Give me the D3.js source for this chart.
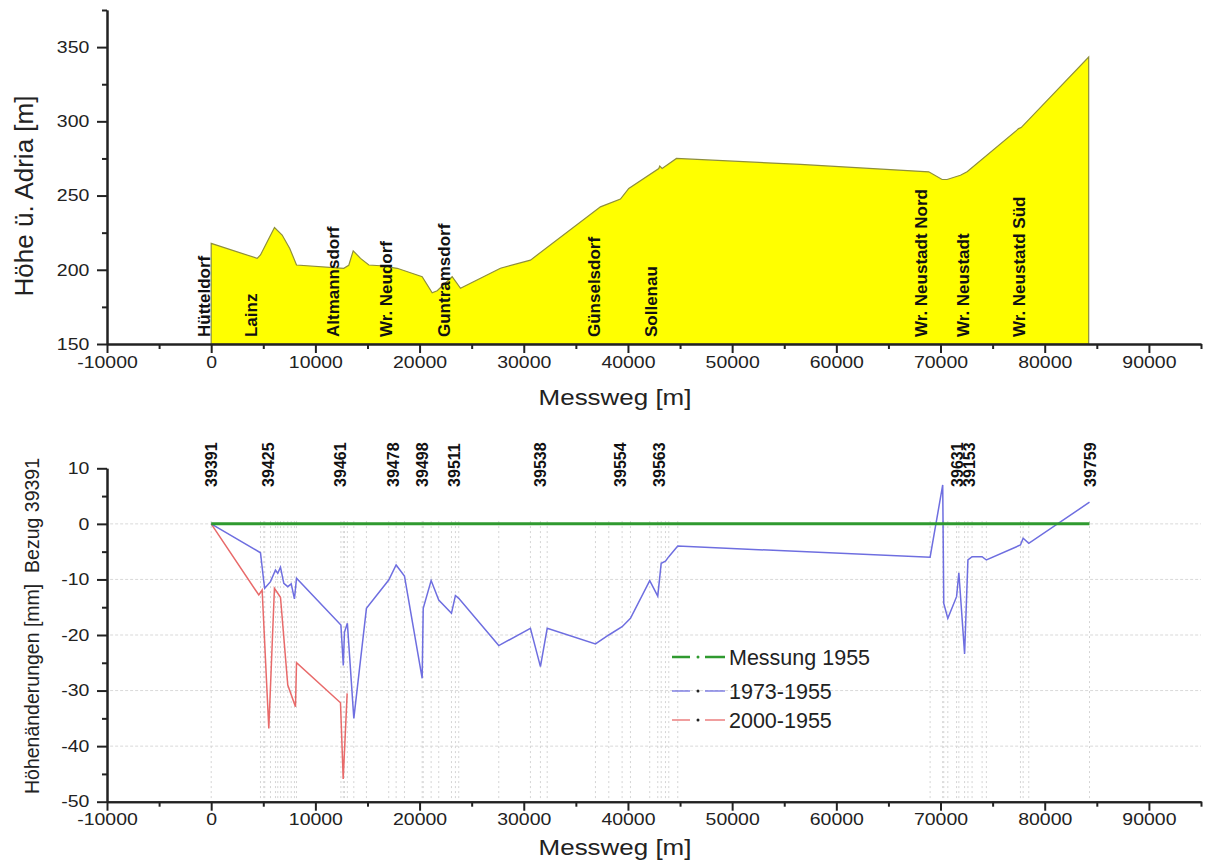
<!DOCTYPE html>
<html><head><meta charset="utf-8">
<script src="https://cdn.jsdelivr.net/npm/d3@7"></script>
<style>
body{margin:0;background:#fff}
text{font-family:"Liberation Sans",Arial,Helvetica,sans-serif}
</style>
</head><body>
<svg id="chart" width="1208" height="865"></svg>
<script>
// ---------- DATA ----------
const profileX = [0, 4415, 4730, 6075, 6810, 7540, 8190, 12725, 13200, 13630, 14330, 15130, 16250, 17850, 20250, 21210, 21690, 23130, 23930, 27760, 30640, 37360, 39280, 40080, 42960, 43050, 43280, 44655, 56550, 68870, 70150, 70630, 71910, 72550, 77500, 77740, 84220];
const profileH = [217.8, 207.7, 210, 228.5, 223.4, 214.4, 203.2, 201, 203, 212.8, 207.7, 203.2, 202.7, 201, 195.3, 184.5, 185.9, 195.3, 187.5, 201, 206.5, 242.4, 247.6, 254.8, 268.2, 269.8, 268.2, 275, 271, 266, 260.8, 260.8, 263.7, 266, 295.1, 295.8, 343.3];

const townNames = ["Hütteldorf", "Lainz", "Altmannsdorf", "Wr. Neudorf", "Guntramsdorf", "Günselsdorf", "Sollenau", "Wr. Neustadt Nord", "Wr. Neustadt", "Wr. Neustatd Süd"];
const townX = [-740, 3770, 11670, 16730, 22320, 36720, 42230, 68070, 72130, 77510];

const stationIds = ["39391", "39425", "39461", "39478", "39498", "39511", "39538", "39554", "39563", "39631", "39153", "39759"];
const stationX = [0, 5430, 12340, 17470, 20250, 23350, 31600, 39280, 43050, 71650, 72800, 84380];

const base1955X = [0, 84300];
const base1955 = [0, 0];

const series1973X = [0, 4730, 5050, 5140, 5690, 6170, 6390, 6650, 6970, 7350, 7680, 7990, 8190, 12450, 12680, 12790, 13070, 13690, 14900, 17040, 17750, 18550, 20250, 20350, 21110, 21840, 23060, 23440, 23760, 27600, 30640, 31600, 32250, 36880, 38160, 39440, 40240, 42090, 42860, 43190, 43600, 43920, 44780, 69000, 70210, 70310, 70700, 71540, 71760, 72310, 72630, 73030, 73990, 74400, 77670, 77930, 78470, 84300];
const series1973 = [0, -5.2, -10.4, -11.6, -10.4, -8.3, -8.9, -7.8, -10.7, -11.3, -10.8, -13.5, -9.8, -18.2, -25.5, -19.5, -17.9, -35, -15.2, -10.1, -7.4, -9.4, -27.8, -15.2, -10.2, -13.7, -16.1, -12.9, -13.4, -21.9, -18.8, -25.7, -18.8, -21.6, -20, -18.5, -17, -10.2, -13.0, -7.1, -6.7, -5.9, -4.0, -6.0, 7.0, -14.3, -17, -13.1, -8.8, -23.4, -6.5, -5.9, -5.9, -6.5, -3.8, -2.6, -3.5, 3.9];

const series2000X = [0, 4570, 4890, 5530, 6070, 6650, 7350, 8090, 8190, 12410, 12670, 13050];
const series2000 = [0, -12.8, -11.9, -36.8, -11.6, -13.2, -29, -32.9, -25, -32.2, -45.9, -30.5];

const legendLabels = ["Messung 1955", "1973-1955", "2000-1955"];

const xTicks = [-10000, 0, 10000, 20000, 30000, 40000, 50000, 60000, 70000, 80000, 90000];
const xMinorTicks = [-5000, 5000, 15000, 25000, 35000, 45000, 55000, 65000, 75000, 85000, 95000];
const topYTicks = [150, 200, 250, 300, 350];
const topYMinorTicks = [175, 225, 275, 325, 375];
const botYTicks = [-50, -40, -30, -20, -10, 0, 10];
const botYMinorTicks = [-45, -35, -25, -15, -5, 5];
const gridYValues = [-40, -30, -20, -10, 0];

// ---------- LAYOUT ----------
const svg = d3.select("#chart");
const AX = "#222";
const SX = 1.18; // horizontal stretch of horizontal labels

const x = d3.scaleLinear().domain([-10000, 95000]).range([107, 1201]);
const yTop = d3.scaleLinear().domain([150, 375]).range([344, 10]);
const yBot = d3.scaleLinear().domain([-50, 10]).range([801.7, 468.3]);

function styleAxis(g, labels) {
  g.select(".domain").attr("stroke", AX).attr("stroke-width", 2);
  g.selectAll(".tick line").attr("stroke", AX).attr("stroke-width", 2);
  g.selectAll(".tick text").attr("fill", "#222").attr("font-size", 16.5)
    .attr("transform", `scale(${SX},1)`);
}

function drawXAxis(y0) {
  const gMin = svg.append("g").attr("transform", `translate(0,${y0})`)
    .call(d3.axisBottom(x).tickValues(xMinorTicks).tickSize(5).tickSizeOuter(0).tickFormat(""));
  styleAxis(gMin);
  const g = svg.append("g").attr("transform", `translate(0,${y0})`)
    .call(d3.axisBottom(x).tickValues(xTicks).tickSize(9).tickSizeOuter(0).tickPadding(3).tickFormat(d => String(d)));
  styleAxis(g);
}
function drawYAxis(scale, ticks, minor) {
  const gMin = svg.append("g").attr("transform", `translate(107,0)`)
    .call(d3.axisLeft(scale).tickValues(minor).tickSize(5).tickSizeOuter(0).tickFormat(""));
  styleAxis(gMin);
  const g = svg.append("g").attr("transform", `translate(107,0)`)
    .call(d3.axisLeft(scale).tickValues(ticks).tickSize(10).tickSizeOuter(0).tickPadding(5).tickFormat(d => String(d)));
  styleAxis(g);
}

// ---------- TOP CHART ----------
const profile = profileX.map((d, i) => ({x: d, h: profileH[i]}));
const area = d3.area().x(d => x(d.x)).y0(yTop(150)).y1(d => yTop(d.h));
svg.append("path").datum(profile).attr("d", area)
  .attr("fill", "#ffff00").attr("stroke", "#8e8e3c").attr("stroke-width", 1.2);

svg.append("g").selectAll("text").data(townNames).join("text")
  .attr("transform", (d, i) => `translate(${x(townX[i])},${yTop(154.7)}) rotate(-90)`)
  .attr("dy", "0.36em").attr("font-size", 17).attr("font-weight", "bold").attr("fill", "#111")
  .text(d => d);

drawXAxis(yTop(150));
drawYAxis(yTop, topYTicks, topYMinorTicks);

svg.append("text").attr("x", 615 / SX).attr("y", 405).attr("transform", `scale(${SX},1)`)
  .attr("text-anchor", "middle").attr("font-size", 22).attr("fill", "#222").text("Messweg [m]");
svg.append("text").attr("transform", "translate(33,196) rotate(-90)")
  .attr("text-anchor", "middle").attr("font-size", 26).attr("fill", "#222").text("Höhe ü. Adria [m]");

// ---------- BOTTOM CHART ----------
// grid
svg.append("g").selectAll("line").data(gridYValues).join("line")
  .attr("x1", x(-9700)).attr("x2", x(95000)).attr("y1", d => yBot(d)).attr("y2", d => yBot(d))
  .attr("stroke", "#d9d9d9").attr("stroke-width", 1).attr("stroke-dasharray", "3,2");
svg.append("g").selectAll("line").data(series1973X).join("line")
  .attr("x1", d => x(d)).attr("x2", d => x(d)).attr("y1", yBot(0.5)).attr("y2", yBot(-50))
  .attr("stroke", "#d4d4d4").attr("stroke-width", 1).attr("stroke-dasharray", "2,3");

const line = d3.line().x(d => x(d[0])).y(d => yBot(d[1]));
svg.append("path").datum(series2000X.map((d, i) => [d, series2000[i]])).attr("d", line)
  .attr("fill", "none").attr("stroke", "#e86a6a").attr("stroke-width", 1.5);
svg.append("path").datum(series1973X.map((d, i) => [d, series1973[i]])).attr("d", line)
  .attr("fill", "none").attr("stroke", "#6e6ee0").attr("stroke-width", 1.5);
svg.append("path").datum(base1955X.map((d, i) => [d, base1955[i]])).attr("d", line)
  .attr("fill", "none").attr("stroke", "#2f9a2f").attr("stroke-width", 3);

svg.append("g").selectAll("text").data(stationIds).join("text")
  .attr("transform", (d, i) => `translate(${x(stationX[i])},${yBot(6.65)}) rotate(-90)`)
  .attr("dy", "0.36em").attr("font-size", 16).attr("font-weight", "bold").attr("fill", "#111")
  .text(d => d);

drawXAxis(yBot(-50));
drawYAxis(yBot, botYTicks, botYMinorTicks);

svg.append("text").attr("x", 615 / SX).attr("y", 855).attr("transform", `scale(${SX},1)`)
  .attr("text-anchor", "middle").attr("font-size", 22).attr("fill", "#222").text("Messweg [m]");
svg.append("text").attr("transform", "translate(39,626) rotate(-90)")
  .attr("text-anchor", "middle").attr("font-size", 19.5).attr("fill", "#222")
  .attr("xml:space", "preserve").style("white-space", "pre")
  .text("Höhenänderungen [mm]  Bezug 39391");

// legend
const legColors = ["#2f9a2f", "#6e6ee0", "#e86a6a"];
const legY = [657, 691, 720];
const leg = svg.append("g");
legendLabels.forEach((lab, i) => {
  const w = i === 0 ? 2.5 : 1.3;
  leg.append("line").attr("x1", 672).attr("x2", 690).attr("y1", legY[i]).attr("y2", legY[i])
    .attr("stroke", legColors[i]).attr("stroke-width", w);
  leg.append("line").attr("x1", 705).attr("x2", 725).attr("y1", legY[i]).attr("y2", legY[i])
    .attr("stroke", legColors[i]).attr("stroke-width", w);
  leg.append("circle").attr("cx", 698).attr("cy", legY[i]).attr("r", 1.5).attr("fill", i === 0 ? legColors[0] : "#222");
  leg.append("text").attr("x", 729).attr("y", legY[i] + 8).attr("font-size", 21.5).attr("fill", "#222").text(lab);
});
</script>
</body></html>
